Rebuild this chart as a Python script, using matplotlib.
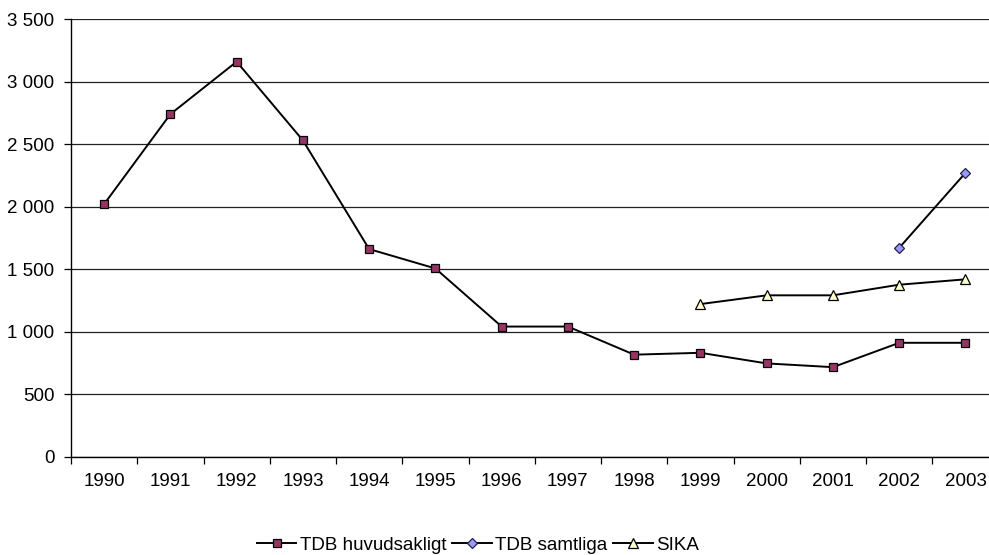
import matplotlib
matplotlib.use('Agg')
import matplotlib.pyplot as plt
import matplotlib.ticker as ticker
import numpy as np

plt.rcParams['font.family'] = ['Liberation Sans', 'DejaVu Sans']

years = ['1990', '1991', '1992', '1993', '1994', '1995', '1996',
         '1997', '1998', '1999', '2000', '2001', '2002', '2003']
nan = np.nan
tdb_huvud = [2020, 2740, 3160, 2530, 1660, 1505, 1040,
             1040, 815, 830, 745, 715, 910, 910]
tdb_samt = [nan, nan, nan, nan, nan, nan, nan,
            nan, nan, nan, nan, nan, 1670, 2270]
sika = [nan, nan, nan, nan, nan, nan, nan,
        nan, nan, 1220, 1290, 1290, 1375, 1418]

fig = plt.figure(figsize=(9.89, 5.55), dpi=100)
ax = fig.add_axes([71/989, 1 - 456.5/555, 927.6/989, 437.3/555])

x = np.arange(len(years))
ax.plot(x, tdb_huvud, '-', color='black', lw=1.4, marker='s', ms=5.5,
        mfc='#993366', mec='black', mew=0.9, label='TDB huvudsakligt')
ax.plot(x, tdb_samt, '-', color='black', lw=1.4, marker='D', ms=5,
        mfc='#9999FF', mec='#222244', mew=0.9, label='TDB samtliga')
ax.plot(x, sika, '-', color='black', lw=1.4, marker='^', ms=7,
        mfc='#FFFFCC', mec='black', mew=0.9, label='SIKA')

ax.set_xlim(-0.5, len(years) - 0.5)
ax.set_ylim(0, 3500)
ax.set_xticks(x)
ax.set_xticklabels(years)
ax.set_xticks(np.arange(-0.5, len(years), 1.0), minor=True)
ax.tick_params(axis='x', which='major', length=0, pad=12, labelsize=13.5)
ax.tick_params(axis='x', which='minor', length=5, width=0.9, direction='out')
ax.yaxis.set_major_locator(ticker.MultipleLocator(500))
ax.yaxis.set_major_formatter(ticker.FuncFormatter(
    lambda v, p: '{:,.0f}'.format(v).replace(',', ' ')))
ax.tick_params(axis='y', length=5, width=0.9, pad=7, labelsize=13.5)

ax.grid(axis='y', color='#222222', lw=0.9)
ax.set_axisbelow(True)
for s in ['top', 'right']:
    ax.spines[s].set_visible(False)
for s in ['left', 'bottom']:
    ax.spines[s].set_linewidth(1.0)

fig.legend(loc='center', bbox_to_anchor=(478/989, 1 - 545/555), ncol=3,
           frameon=False, fontsize=13.5, handlelength=2.1,
           handletextpad=0.2, columnspacing=0.3, borderaxespad=0)

fig.savefig('out.png', dpi=100)
